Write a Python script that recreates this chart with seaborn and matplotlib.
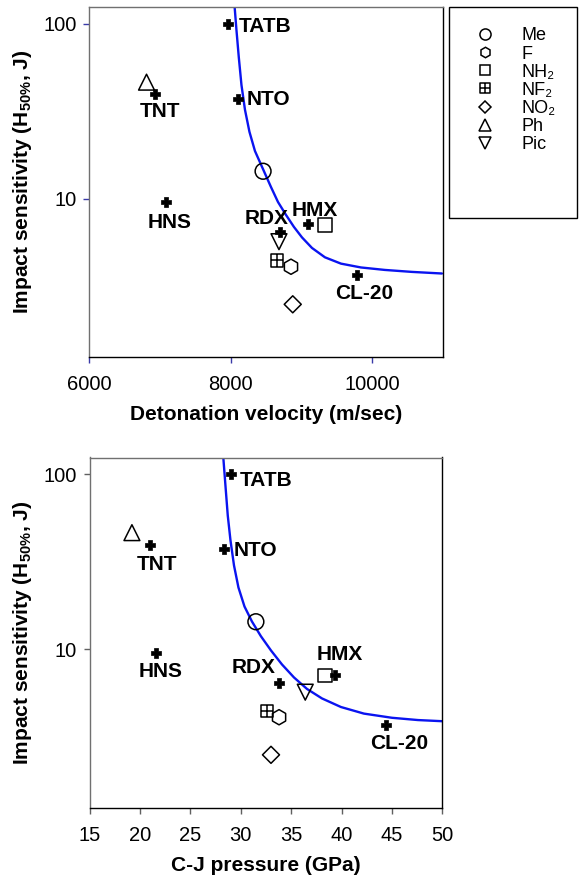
import numpy as np
import pandas as pd
import matplotlib
matplotlib.use("Agg")
import matplotlib.pyplot as plt
from matplotlib.path import Path
from matplotlib.lines import Line2D
from matplotlib.patches import Rectangle
import seaborn as sns

# ---------------- data ----------------
explosives = ["TATB", "TNT", "NTO", "HNS", "RDX", "HMX", "CL-20"]
exp_velocity = [7970, 6930, 8110, 7090, 8700, 9100, 9790]
exp_pressure = [29.0, 21.0, 28.3, 21.6, 33.8, 39.4, 44.4]
exp_impact = [100, 39.6, 37.5, 9.6, 6.45, 7.15, 3.7]

substituents = ["Me", "F", "NH\u2082", "NF\u2082", "NO\u2082", "Ph", "Pic"]
sub_velocity = [8460, 8855, 9335, 8660, 8880, 6810, 8685]
sub_pressure = [31.5, 33.8, 38.35, 32.6, 33.0, 19.2, 36.4]
sub_impact = [14.4, 4.1, 7.1, 4.45, 2.5, 46.5, 5.7]

fit_velocity = [8055, 8083, 8116, 8154, 8204, 8267, 8345, 8466, 8572, 8671, 8784,
                8897, 9011, 9152, 9336, 9563, 9846, 10185, 10568, 10992]
fit_impact_v = [128.5, 92.5, 64.7, 44.8, 32.3, 24.2, 18.8, 14.6, 11.7, 9.61, 8.11,
                6.92, 6.03, 5.25, 4.64, 4.27, 4.06, 3.93, 3.83, 3.75]

fit_pressure = [28.26, 28.48, 28.71, 28.98, 29.33, 29.77, 30.37, 31.11, 32.00, 33.0,
                34.09, 35.28, 36.57, 38.06, 39.94, 42.22, 45.0, 47.58, 50.01]
fit_impact_p = [126.8, 86.5, 58.3, 42.0, 30.2, 22.6, 17.6, 14.45, 11.9, 9.87,
                8.21, 6.92, 5.95, 5.25, 4.69, 4.30, 4.07, 3.95, 3.89]

x_ticks_v = [6000, 8000, 10000]
x_ticks_p = [15, 20, 25, 30, 35, 40, 45, 50]
y_ticks = [10, 100]

# ---------------- style ----------------
sns.set_theme(style="white")
plt.rcParams["font.family"] = ["Liberation Sans", "DejaVu Sans"]
plt.rcParams["mathtext.fontset"] = "custom"
plt.rcParams["mathtext.rm"] = "Liberation Sans"
plt.rcParams["mathtext.bf"] = "Liberation Sans:bold"
plt.rcParams["mathtext.it"] = "Liberation Sans:italic"
plt.rcParams["text.color"] = "black"
plt.rcParams["axes.labelcolor"] = "black"
plt.rcParams["xtick.labelcolor"] = "black"
plt.rcParams["ytick.labelcolor"] = "black"

grid_path = Path(
    [(-1, -1), (1, -1), (1, 1), (-1, 1), (-1, -1), (0, -1), (0, 1), (-1, 0), (1, 0)],
    [Path.MOVETO, Path.LINETO, Path.LINETO, Path.LINETO, Path.CLOSEPOLY,
     Path.MOVETO, Path.LINETO, Path.MOVETO, Path.LINETO],
)
sub_markers = ["o", "h", "s", grid_path, "D", "^", "v"]
sub_sizes = [130, 120, 100, 80, 75, 130, 130]
legend_msize = [8.0, 7.5, 7.0, 6.5, 6.5, 8.0, 8.0]

label_fs = 15
tick_fs = 14.5
annot_fs = 15

offsets_v = {"TATB": (10, -3, "left"), "NTO": (8, -1, "left"), "TNT": (5, -17, "center"),
             "HNS": (3, -20, "center"), "RDX": (-13, 14, "center"), "HMX": (6, 14, "center"),
             "CL-20": (7, -19, "center")}
offsets_p = {"TATB": (9, -6, "left"), "NTO": (10, -1, "left"), "TNT": (7, -20, "center"),
             "HNS": (5, -19, "center"), "RDX": (-25, 15, "center"), "HMX": (4, 20, "center"),
             "CL-20": (13, -18, "center")}

W, H = 579, 877
fig = plt.figure(figsize=(W / 100, H / 100), dpi=100)
ax1 = fig.add_axes([89.3 / W, 1 - 357 / H, (442.5 - 89.3) / W, 350 / H])
ax2 = fig.add_axes([89.6 / W, 1 - 807.5 / H, (442.3 - 89.6) / W, 350 / H])


def draw(ax, xs_exp, xs_sub, fit_x, fit_y, offsets, xlim, xticks, xlabel, tick_color):
    ax.set_yscale("log")
    sns.lineplot(x=fit_x, y=fit_y, ax=ax, color="#0a14f0", lw=1.7, sort=False, zorder=2)
    for x, y, m, s in zip(xs_sub, sub_impact, sub_markers, sub_sizes):
        sns.scatterplot(x=[x], y=[y], ax=ax, marker=m, s=s, facecolor="none",
                        edgecolor="black", linewidth=1.1, zorder=3)
    sns.scatterplot(x=xs_exp, y=exp_impact, ax=ax, marker="P", s=42, color="black",
                    edgecolor="black", linewidth=0.5, zorder=4)
    for name, x, y in zip(explosives, xs_exp, exp_impact):
        dx, dy, ha = offsets[name]
        ax.annotate(name, (x, y), xytext=(dx, dy), textcoords="offset pixels",
                    ha=ha, va="center", fontsize=annot_fs, fontweight="bold")
    ax.set_xlim(*xlim)
    ax.set_ylim(1.25, 125)
    ax.set_xticks(xticks)
    ax.set_xticklabels([str(t) for t in xticks])
    ax.set_yticks(y_ticks)
    ax.set_yticklabels([str(t) for t in y_ticks])
    ax.minorticks_off()
    ax.tick_params(axis="both", which="major", direction="out", length=4, width=1,
                   color=tick_color, labelsize=tick_fs, labelcolor="black",
                   bottom=True, left=True)
    ax.tick_params(axis="x", pad=9)
    ax.tick_params(axis="y", pad=5)
    ax.set_xlabel(xlabel, fontsize=label_fs, fontweight="bold", labelpad=8)
    ax.set_ylabel("Impact sensitivity (H$_{\\mathbf{50\\%}}$, J)", fontsize=label_fs,
                  fontweight="bold", labelpad=7)
    for side in ["left", "top"]:
        ax.spines[side].set_color("#707070")
    for side in ["right", "bottom"]:
        ax.spines[side].set_color("black")
    for sp in ax.spines.values():
        sp.set_linewidth(1.0)
        sp.set_visible(True)


draw(ax1, exp_velocity, sub_velocity, fit_velocity, fit_impact_v, offsets_v,
     (6000, 11000), x_ticks_v, "Detonation velocity (m/sec)", "#3a3aa8")
draw(ax2, exp_pressure, sub_pressure, fit_pressure, fit_impact_p, offsets_p,
     (15, 50), x_ticks_p, "C-J pressure (GPa)", "#606060")

# legend box
fig.patches.append(Rectangle((449 / W, 1 - 218 / H), (577 - 449) / W, (218 - 7) / H,
                             transform=fig.transFigure, fill=False, edgecolor="black",
                             linewidth=1.0))
handles = [Line2D([], [], ls="none", marker=m, markersize=ms,
                  markerfacecolor="none", markeredgecolor="black", markeredgewidth=1.1)
           for m, ms in zip(sub_markers, legend_msize)]
leg_fs = 13
fig.legend(handles, substituents, loc="upper left",
           bbox_to_anchor=(476.0 / W, 1 - 27.5 / H), frameon=False,
           fontsize=leg_fs, borderpad=0, labelspacing=0.06, handletextpad=1.5,
           borderaxespad=0, handlelength=1.0)

fig.savefig("out.png", dpi=100)
